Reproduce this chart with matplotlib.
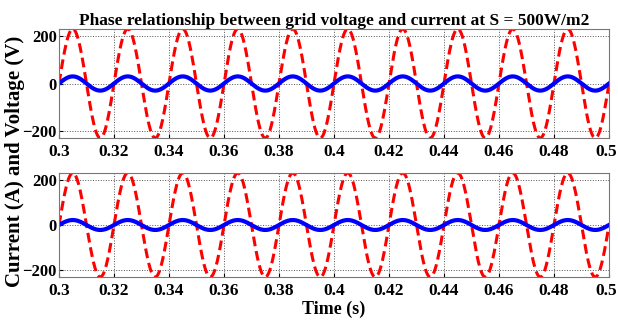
import numpy as np
import matplotlib.pyplot as plt
from matplotlib.transforms import ScaledTranslation

plt.rcParams['font.family'] = ['Liberation Serif', 'DejaVu Serif']
plt.rcParams['font.weight'] = 'bold'

# values
t_start, t_end = 0.3, 0.5
grid_freq = 50                 # Hz, 10 cycles in 0.2 s
voltage_peak = [230, 230]      # V, top and bottom panel
current_peak = [30, 22]        # A, top and bottom panel
x_ticks = [0.3, 0.32, 0.34, 0.36, 0.38, 0.4, 0.42, 0.44, 0.46, 0.48, 0.5]
x_tick_labels = ["0.3", "0.32", "0.34", "0.36", "0.38", "0.4",
                 "0.42", "0.44", "0.46", "0.48", "0.5"]
y_ticks = [-200, 0, 200]

t = np.linspace(t_start, t_end, 2000)

fig = plt.figure(figsize=(6.18, 3.2), dpi=100)
ax1 = fig.add_axes([59/618, 1 - 138/320, 550/618, 109/320])
ax2 = fig.add_axes([59/618, 1 - 277/320, 550/618, 104/320])

for ax, vp, ip in zip((ax1, ax2), voltage_peak, current_peak):
    ax.plot(t, vp * np.sin(2 * np.pi * grid_freq * t), color='#ff0000',
            linestyle=(0, (3.2, 1.6)), linewidth=2.2)
    ax.plot(t, ip * np.sin(2 * np.pi * grid_freq * t), color='#0000ff',
            linewidth=3.0)
    ax.set_xlim(t_start, t_end)
    ax.set_ylim(-230, 230)
    ax.set_xticks(x_ticks)
    ax.set_xticklabels(x_tick_labels)
    ax.set_yticks(y_ticks)
    ax.grid(True, color='#555555', linestyle=':', linewidth=0.7)
    ax.tick_params(labelsize=12.5, length=3, direction='in', pad=4)
    ax.tick_params(axis='y', labelsize=12, pad=1.5)
    for side in ax.spines.values():
        side.set_color('#777777')
        side.set_linewidth(0.8)
    for lab in ax.get_xticklabels() + ax.get_yticklabels():
        lab.set_fontweight('bold')
    # keep the last tick label inside the figure
    last = ax.get_xticklabels()[-1]
    last.set_transform(last.get_transform() +
                       ScaledTranslation(-3/100, 0, fig.dpi_scale_trans))

ax1.set_title("Phase relationship between grid voltage and current at S = 500W/m2",
              fontsize=12.5, fontweight='bold', pad=3)
fig.text(334/618, 1 - 309/320, "Time (s)", ha='center', va='center',
         fontsize=13, fontweight='bold')
fig.text(15/618, 1 - 161/320, "Current (A) and Voltage (V)", ha='center', va='center',
         rotation=90, fontsize=15, fontweight='bold')

fig.savefig("out.png", dpi=100)
